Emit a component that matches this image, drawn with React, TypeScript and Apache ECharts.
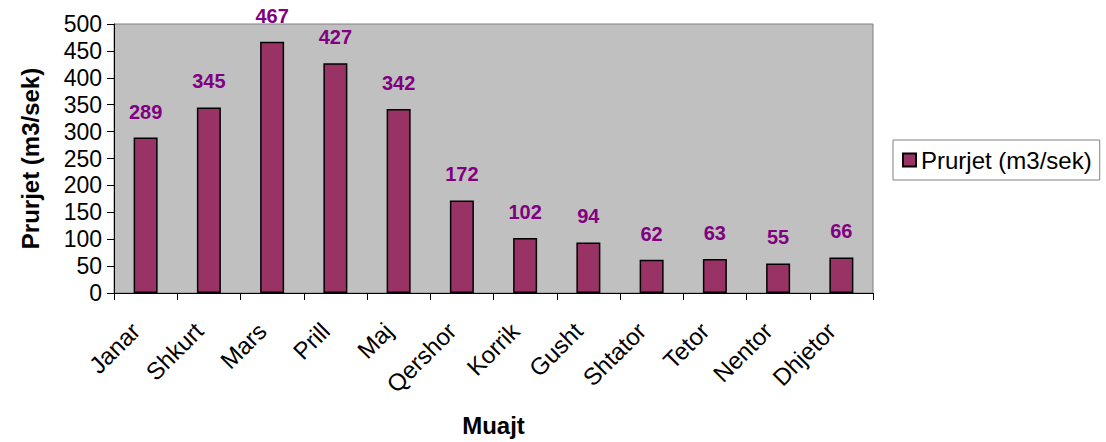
import React, { useEffect, useRef } from "react";
import * as echarts from "echarts";

const categories = ["Janar", "Shkurt", "Mars", "Prill", "Maj", "Qershor", "Korrik", "Gusht", "Shtator", "Tetor", "Nentor", "Dhjetor"];
const values = [289, 345, 467, 427, 342, 172, 102, 94, 62, 63, 55, 66];
const seriesName = "Prurjet (m3/sek)";
const xTitle = "Muajt";
const yTitle = "Prurjet (m3/sek)";

const FONT = "'Liberation Sans', Arial, sans-serif";

export default function App() {
  const ref = useRef<HTMLDivElement>(null);
  useEffect(() => {
    if (!ref.current) return;
    const chart = echarts.init(ref.current, null, { renderer: "svg" });
    chart.setOption({
      animation: false,
      textStyle: { fontFamily: FONT },
      grid: {
        left: 114,
        right: 233,
        top: 24,
        bottom: 146,
        show: true,
        backgroundColor: "#c0c0c0",
        borderColor: "#808080",
        borderWidth: 1,
      },
      legend: {
        left: 893,
        top: 140,
        orient: "vertical",
        itemWidth: 13,
        itemHeight: 13,
        itemGap: 4,
        padding: [8, 8, 8, 9],
        borderColor: "#808080",
        borderWidth: 1,
        textStyle: { fontFamily: FONT, fontSize: 24, color: "#000" },
        data: [{ name: seriesName, icon: "rect" }],
      },
      xAxis: {
        type: "category",
        data: categories,
        name: xTitle,
        nameLocation: "middle",
        nameGap: 120,
        nameTextStyle: { fontFamily: FONT, fontSize: 24, fontWeight: "bold", color: "#000" },
        axisLine: { lineStyle: { color: "#000", width: 1 } },
        axisTick: { show: true, length: 7, lineStyle: { color: "#000" } },
        axisLabel: {
          rotate: 45,
          fontFamily: FONT,
          fontSize: 24,
          color: "#000",
          margin: 24,
          padding: [0, 14, 0, 0],
          interval: 0,
        },
        splitLine: { show: false },
      },
      yAxis: {
        type: "value",
        min: 0,
        max: 500,
        interval: 50,
        name: yTitle,
        nameLocation: "middle",
        nameGap: 72,
        nameRotate: 90,
        nameTextStyle: { fontFamily: FONT, fontSize: 24, fontWeight: "bold", color: "#000" },
        axisLine: { show: true, lineStyle: { color: "#000", width: 1 } },
        axisTick: { show: true, length: 7, lineStyle: { color: "#000" } },
        axisLabel: { fontFamily: FONT, fontSize: 23, color: "#000", margin: 12 },
        splitLine: { show: false },
      },
      series: [
        {
          name: seriesName,
          type: "bar",
          data: values,
          barWidth: 24,
          itemStyle: { color: "#993366", borderColor: "#000", borderWidth: 1.5 },
          label: {
            show: true,
            position: "top",
            distance: 16,
            fontFamily: FONT,
            fontSize: 20,
            fontWeight: "bold",
            color: "#800080",
          },
        },
      ],
    });
    return () => chart.dispose();
  }, []);
  return <div ref={ref} style={{ width: 1106, height: 442, position: "absolute", left: 0, top: 0 }} />;
}
